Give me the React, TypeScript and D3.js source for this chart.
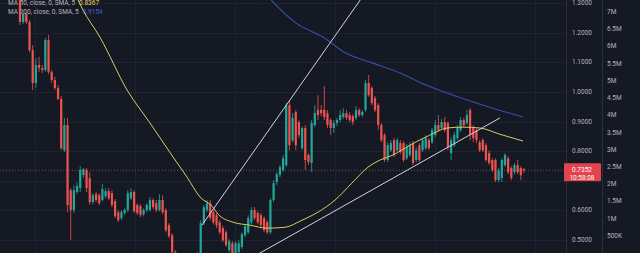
import React, { useEffect } from "react";
import * as d3 from "d3";

const opens = [
  1.327,1.236,1.263,1.236,1.141,1.030,1.091,1.080,1.074,1.175,
  1.067,1.040,1.013,0.976,0.803,0.888,0.668,0.601,0.662,0.675,
  0.719,0.736,0.709,0.628,0.655,0.651,0.635,0.648,0.665,0.658,
  0.631,0.594,0.574,0.591,0.601,0.641,0.662,0.618,0.614,0.587,
  0.601,0.601,0.635,0.624,0.601,0.635,0.601,0.550,0.516,0.459,
  0.425,0.398,0.418,0.391,0.371,0.405,0.425,0.439,0.557,0.601,
  0.624,0.594,0.584,0.560,0.540,0.526,0.466,0.489,0.456,0.459,
  0.476,0.516,0.526,0.560,0.601,0.591,0.584,0.574,0.560,0.526,
  0.635,0.695,0.719,0.736,0.753,0.955,0.837,0.932,0.898,0.810,
  0.878,0.787,0.760,0.888,0.939,0.939,0.939,0.928,0.905,0.878,
  0.895,0.905,0.915,0.928,0.922,0.918,0.912,0.939,0.922,0.939,
  1.030,1.013,0.979,0.955,0.888,0.854,0.770,0.803,0.837,0.803,
  0.827,0.827,0.776,0.787,0.827,0.770,0.820,0.803,0.810,0.837,
  0.830,0.854,0.888,0.878,0.898,0.895,0.793,0.820,0.844,0.871,
  0.905,0.895,0.939,0.881,0.871,0.830,0.837,0.820,0.793,0.770,
  0.770,0.702,0.709,0.753,0.776,0.743,0.729,0.753,0.743,0.739,
];
const closes = [
  1.236,1.263,1.236,1.141,1.030,1.091,1.080,1.074,1.175,1.067,
  1.040,1.013,0.976,0.810,0.888,0.618,0.601,0.668,0.682,0.736,
  0.739,0.675,0.628,0.651,0.635,0.624,0.672,0.665,0.641,0.618,
  0.580,0.567,0.594,0.601,0.658,0.662,0.597,0.591,0.584,0.601,
  0.618,0.635,0.611,0.601,0.635,0.594,0.533,0.513,0.459,0.425,
  0.398,0.418,0.391,0.371,0.405,0.432,0.449,0.557,0.611,0.624,
  0.574,0.560,0.550,0.526,0.499,0.483,0.496,0.456,0.489,0.489,
  0.520,0.547,0.574,0.601,0.574,0.560,0.550,0.533,0.526,0.635,
  0.692,0.722,0.746,0.776,0.955,0.820,0.912,0.820,0.854,0.878,
  0.770,0.763,0.895,0.928,0.922,0.928,0.915,0.888,0.878,0.895,
  0.905,0.922,0.928,0.912,0.905,0.898,0.939,0.922,0.932,1.030,
  0.989,0.962,0.939,0.888,0.837,0.770,0.820,0.827,0.787,0.837,
  0.797,0.770,0.813,0.820,0.760,0.803,0.770,0.837,0.844,0.810,
  0.871,0.888,0.871,0.898,0.871,0.813,0.837,0.854,0.878,0.905,
  0.888,0.922,0.854,0.844,0.837,0.803,0.803,0.770,0.760,0.736,
  0.702,0.736,0.770,0.787,0.729,0.709,0.753,0.729,0.719,0.7352,
];
const highs = [
  1.344,1.276,1.270,1.243,1.158,1.114,1.118,1.091,1.182,1.192,
  1.074,1.050,1.023,0.986,0.912,0.912,0.675,0.685,0.695,0.749,
  0.743,0.743,0.729,0.658,0.662,0.658,0.689,0.675,0.675,0.668,
  0.638,0.601,0.601,0.607,0.668,0.675,0.668,0.624,0.621,0.607,
  0.624,0.645,0.641,0.635,0.655,0.651,0.607,0.557,0.523,0.466,
  0.439,0.425,0.425,0.398,0.415,0.439,0.459,0.567,0.618,0.635,
  0.635,0.601,0.591,0.567,0.547,0.533,0.503,0.496,0.496,0.499,
  0.526,0.553,0.584,0.611,0.611,0.597,0.591,0.580,0.567,0.641,
  0.702,0.729,0.753,0.787,0.962,0.972,0.928,0.939,0.905,0.884,
  0.888,0.793,0.905,0.955,0.989,0.955,1.020,0.939,0.912,0.905,
  0.912,0.939,0.945,0.939,0.932,0.925,0.952,0.945,0.939,1.040,
  1.057,1.020,0.986,0.962,0.895,0.861,0.830,0.837,0.844,0.844,
  0.837,0.834,0.824,0.830,0.834,0.813,0.827,0.844,0.854,0.844,
  0.878,0.905,0.922,0.908,0.915,0.901,0.847,0.864,0.888,0.915,
  0.912,0.939,0.945,0.888,0.878,0.837,0.844,0.827,0.803,0.776,
  0.776,0.743,0.776,0.793,0.783,0.749,0.760,0.770,0.749,0.743,
];
const lows = [
  1.226,1.229,1.229,1.134,1.006,1.013,1.067,1.064,1.067,1.060,
  1.030,1.006,0.972,0.803,0.797,0.594,0.499,0.591,0.655,0.662,
  0.709,0.662,0.618,0.621,0.628,0.618,0.631,0.641,0.635,0.611,
  0.574,0.560,0.567,0.584,0.594,0.635,0.591,0.584,0.577,0.580,
  0.594,0.597,0.604,0.594,0.597,0.587,0.526,0.506,0.445,0.415,
  0.381,0.391,0.381,0.364,0.364,0.398,0.418,0.425,0.550,0.594,
  0.567,0.553,0.540,0.520,0.493,0.476,0.459,0.445,0.449,0.452,
  0.469,0.510,0.520,0.553,0.567,0.553,0.543,0.526,0.520,0.520,
  0.628,0.685,0.712,0.729,0.746,0.803,0.830,0.803,0.844,0.803,
  0.736,0.753,0.729,0.881,0.905,0.918,0.905,0.878,0.854,0.861,
  0.884,0.898,0.908,0.905,0.898,0.888,0.905,0.915,0.915,0.932,
  0.983,0.955,0.932,0.871,0.830,0.763,0.763,0.797,0.780,0.797,
  0.790,0.763,0.770,0.780,0.753,0.763,0.763,0.797,0.803,0.803,
  0.824,0.847,0.864,0.871,0.864,0.803,0.770,0.813,0.837,0.864,
  0.881,0.888,0.837,0.830,0.827,0.797,0.797,0.763,0.753,0.729,
  0.695,0.695,0.695,0.746,0.722,0.702,0.722,0.722,0.702,0.726,
];

// MA lines sampled at bar positions [barIndex, value]
const ma50Idx = [18.3, 19.9, 25.2, 33.8, 41, 48.3, 52.7, 56.8, 60.6, 62.5, 67.2, 72.6, 77.9, 83.6, 89, 94, 99.4, 104.7, 109.8, 113.6, 117.7, 123, 129.3, 134.7, 139.7, 145.1, 151.4, 158.7];
const ma50Val = [1.31, 1.276, 1.185, 1.006, 0.895, 0.78, 0.712, 0.645, 0.614, 0.587, 0.56, 0.55, 0.54, 0.543, 0.567, 0.594, 0.635, 0.692, 0.746, 0.77, 0.787, 0.82, 0.854, 0.878, 0.881, 0.878, 0.857, 0.834];
const ma200Idx = [79.2, 87.1, 95.6, 102.8, 111.4, 119.9, 128.1, 138.5, 149.2, 158.7];
const ma200Val = [1.31, 1.232, 1.185, 1.131, 1.097, 1.064, 1.023, 0.982, 0.945, 0.915];

// Drawn trend lines: [startIdx, startPrice, endIdx, endPrice]
const upperTrend = [57.4, 0.55, 110.4, 1.357];
const lowerTrend = [69.4, 0.418, 151.4, 0.912];

const priceTicks = [1.3, 1.2, 1.1, 1.0, 0.9, 0.8, 0.7, 0.6, 0.5];
const priceTickLabels = ["1.3000", "1.2000", "1.1000", "1.0000", "0.9000", "0.8000", "", "0.6000", "0.5000"];
const volTicks = [7e6, 6.5e6, 6e6, 5.5e6, 5e6, 4.5e6, 4e6, 3.5e6, 3e6, 2.5e6, 2e6, 1.5e6, 1e6, 5e5];
const volTickLabels = ["7M", "6.5M", "6M", "5.5M", "5M", "4.5M", "4M", "3.5M", "3M", "2.5M", "2M", "1.5M", "1M", "500K"];
const timeGrid = [4.7, 36.3, 67.8, 99.4, 130.9, 162.5];

const lastPrice = 0.7352;
const lastPriceLabel = "0.7352";
const countdown = "10:58:08";
const ma50Legend = "MA 50, close, 0, SMA, 5";
const ma50Value = "0.8367";
const ma200Legend = "MA 200, close, 0, SMA, 5";
const ma200Value = "0.9154";

const W = 640, H = 253;
const PLOT_R = 566;
const BG = "#151924";
const GRID = "#1f2330";
const UP = "#26a69a";
const DOWN = "#ef5350";
const TEXT = "#b2b5be";
const FONT = "Roboto, 'DejaVu Sans', sans-serif";

export default function App() {
  useEffect(() => {
    document.body.style.margin = "0";
    document.body.style.background = BG;
  }, []);

  const x = d3.scaleLinear().domain([0, opens.length - 1]).range([20, 524]);
  const y = d3.scaleLinear().domain([0.5, 1.3]).range([240, 3]);
  const yVol = d3.scaleLinear().domain([0, 7e6]).range([253, 12]);

  const line = d3
    .line<number>()
    .x((_, i) => 0)
    .y(() => 0);

  const ma50Path = d3
    .line<number>()
    .x((d) => x(d))
    .y((_, i) => y(ma50Val[i]))
    .curve(d3.curveMonotoneX)(ma50Idx) as string;
  const ma200Path = d3
    .line<number>()
    .x((d) => x(d))
    .y((_, i) => y(ma200Val[i]))
    .curve(d3.curveMonotoneX)(ma200Idx) as string;
  void line;

  const bodyW = 2.2;

  return (
    <div style={{ position: "absolute", left: 0, top: 0, width: W, height: H }}>
      <svg width={W} height={H} style={{ display: "block", background: BG }} fontFamily={FONT}>
        <defs>
          <clipPath id="plot">
            <rect x={0} y={0} width={PLOT_R} height={H} />
          </clipPath>
        </defs>
        <rect x={0} y={0} width={W} height={H} fill={BG} />
        <g clipPath="url(#plot)">
          {priceTicks.map((p) => (
            <line key={"h" + p} x1={0} x2={PLOT_R} y1={Math.round(y(p)) + 0.5} y2={Math.round(y(p)) + 0.5} stroke={GRID} strokeWidth={1} />
          ))}
          {timeGrid.map((t) => (
            <line key={"v" + t} x1={Math.round(x(t)) + 0.5} x2={Math.round(x(t)) + 0.5} y1={0} y2={H} stroke={GRID} strokeWidth={1} />
          ))}
          <text x={8} y={5} fontSize={6.5} fill={TEXT}>
            {ma50Legend}
            <tspan dx={4} fill="#e6d96a">{ma50Value}</tspan>
          </text>
          <text x={8} y={13.5} fontSize={6.5} fill={TEXT}>
            {ma200Legend}
            <tspan dx={4} fill="#3d63d6">{ma200Value}</tspan>
          </text>
          <line x1={0} x2={PLOT_R} y1={y(lastPrice)} y2={y(lastPrice)} stroke="#c0525a" strokeOpacity={0.75} strokeWidth={1} strokeDasharray="1,2" />
          {opens.map((o, i) => {
            const c = closes[i];
            const col = c >= o ? UP : DOWN;
            const cx = x(i);
            const top = y(Math.max(o, c));
            const bot = y(Math.min(o, c));
            return (
              <g key={i}>
                <line x1={cx} x2={cx} y1={y(highs[i])} y2={y(lows[i])} stroke={col} strokeWidth={0.8} />
                <rect x={cx - bodyW / 2} y={top} width={bodyW} height={Math.max(1, bot - top)} fill={col} />
              </g>
            );
          })}
          <path d={ma50Path} fill="none" stroke="#d8cc62" strokeWidth={1} />
          <path d={ma200Path} fill="none" stroke="#3451a6" strokeWidth={1.1} />
          <line x1={x(upperTrend[0])} y1={y(upperTrend[1])} x2={x(upperTrend[2])} y2={y(upperTrend[3])} stroke="#d1d4dc" strokeWidth={1} />
          <line x1={x(lowerTrend[0])} y1={y(lowerTrend[1])} x2={x(lowerTrend[2])} y2={y(lowerTrend[3])} stroke="#d1d4dc" strokeWidth={1} />
        </g>
        <line x1={566.5} x2={566.5} y1={0} y2={H} stroke="#2a2e39" />
        <line x1={602.5} x2={602.5} y1={0} y2={H} stroke="#2a2e39" />
        {priceTicks.map((p, i) =>
          priceTickLabels[i] ? (
            <text key={"pl" + p} x={582} y={y(p)} fontSize={6.5} fill={TEXT} textAnchor="middle" dominantBaseline="central">
              {priceTickLabels[i]}
            </text>
          ) : null
        )}
        {volTicks.map((v, i) => (
          <text key={"vl" + v} x={607} y={yVol(v)} fontSize={6.5} fill={TEXT} dominantBaseline="central">
            {volTickLabels[i]}
          </text>
        ))}
        <rect x={564} y={y(lastPrice) - 7} width={37} height={18} fill="#e2434e" rx={1} />
        <text x={582} y={y(lastPrice)} fontSize={6.5} fill="#ffffff" textAnchor="middle" dominantBaseline="central">
          {lastPriceLabel}
        </text>
        <text x={582} y={y(lastPrice) + 7.5} fontSize={6.5} fill="#ffffff" textAnchor="middle" dominantBaseline="central">
          {countdown}
        </text>
      </svg>
    </div>
  );
}
